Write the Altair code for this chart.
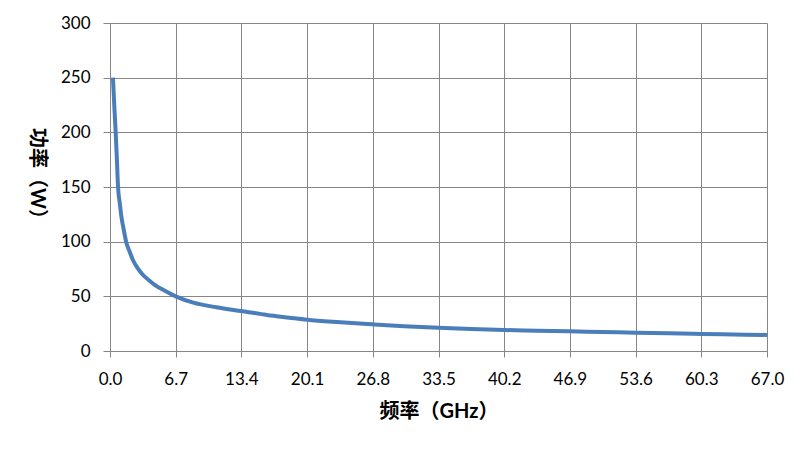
import altair as alt
import pandas as pd

freq = [0.3, 0.45, 0.58, 0.7, 0.82, 1.0, 1.16, 1.4, 1.67, 2.0, 2.35, 2.8, 3.37, 4.0, 4.56,
        5.5, 6.7, 8.5, 10.85, 13.4, 16.0, 18.3, 20.1, 23.5, 26.8, 30.0, 33.5, 36.8, 40.2,
        43.5, 46.9, 50.2, 53.6, 57.0, 60.3, 63.6, 67.0]
power = [250, 222, 200, 176, 150, 135, 123, 111, 99, 91, 83, 76, 69.5, 64.5, 60.5,
         55.5, 50, 44.2, 40, 36.5, 33, 30.5, 28.6, 26.3, 24.4, 22.7, 21.3, 20.2, 19.2,
         18.6, 18.0, 17.4, 16.8, 16.2, 15.6, 15.1, 14.7]
x_ticks = [0.0, 6.7, 13.4, 20.1, 26.8, 33.5, 40.2, 46.9, 53.6, 60.3, 67.0]
y_ticks = [0, 50, 100, 150, 200, 250, 300]

df = pd.DataFrame({"freq": freq, "power": power})

font = "Lato, Noto Sans CJK SC, sans-serif"
grid_color = "#868686"

chart = alt.Chart(df).mark_line(
    color="#4A7EBB", strokeWidth=4, interpolate="monotone"
).encode(
    x=alt.X("freq:Q",
            scale=alt.Scale(domain=[0, 67], nice=False, zero=False),
            axis=alt.Axis(values=x_ticks, format=".1f", title="频率（GHz）",
                          titleFontWeight="bold", titleFontSize=20, titlePadding=14,
                          labelFontSize=17, labelPadding=14, tickSize=6,
                          labelFlush=False)),
    y=alt.Y("power:Q",
            scale=alt.Scale(domain=[0, 300], nice=False),
            axis=alt.Axis(values=y_ticks, title="功率（W）",
                          titleFontWeight="bold", titleFontSize=20, titleAngle=90,
                          titleY=155, titlePadding=34, labelFontSize=17, labelPadding=13,
                          tickSize=7)),
).properties(
    width=657, height=328,
    padding={"left": 102, "top": 15, "right": 20, "bottom": 85},
    autosize=alt.AutoSizeParams(type="none"),
).configure_axis(
    labelFont=font, titleFont=font, labelColor="#000000", titleColor="#000000",
    gridColor=grid_color, gridOpacity=1, gridWidth=1,
    domainColor=grid_color, tickColor=grid_color,
).configure_view(strokeWidth=0)

chart.save("out.html", embed_options={"renderer": "svg", "actions": False})
